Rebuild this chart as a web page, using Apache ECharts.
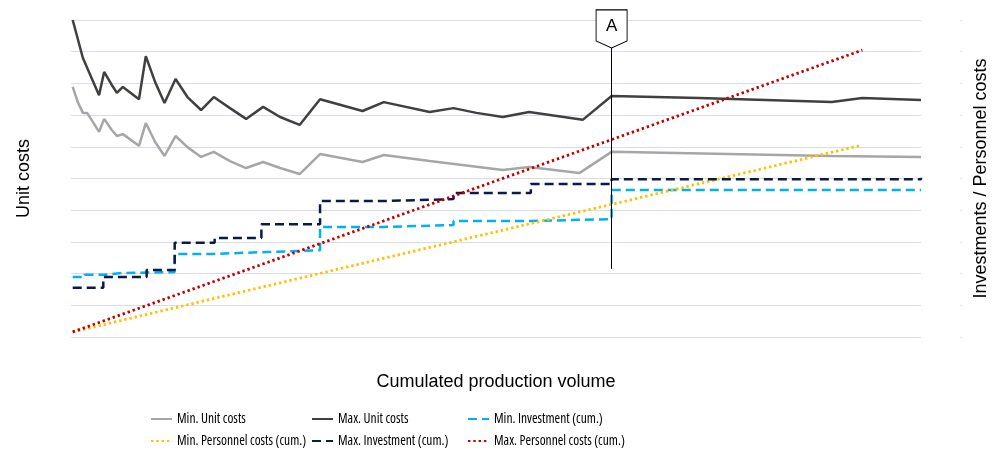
<!DOCTYPE html>
<html>
<head>
<meta charset="utf-8">
<script src="https://cdn.jsdelivr.net/npm/echarts@6/dist/echarts.min.js"></script>
<style>
  html, body { margin: 0; padding: 0; background: #fff; }
  #container { width: 998px; height: 454px; }
</style>
</head>
<body>
<div id="container"></div>
<script>
// production volume (0..100) / value pairs
var maxUnitX = [0.2, 1.4, 3.3, 3.9, 4.8, 5.4, 6.1, 8.0, 8.8, 9.9, 11.0, 12.3, 13.7, 15.3, 16.8, 18.7, 20.6, 22.6, 24.6, 26.9, 29.3, 34.3, 36.8, 42.2, 45.0, 47.7, 50.8, 53.9, 60.2, 63.6, 73.9, 89.5, 93.1, 100];
var maxUnitY = [10.0, 8.8, 7.63, 8.36, 7.95, 7.7, 7.89, 7.5, 8.86, 8.04, 7.38, 8.14, 7.57, 7.16, 7.57, 7.22, 6.88, 7.26, 6.94, 6.69, 7.5, 7.13, 7.41, 7.1, 7.22, 7.07, 6.94, 7.1, 6.85, 7.6, 7.54, 7.41, 7.54, 7.48];

var minUnitX = [0.2, 0.8, 1.4, 1.9, 3.3, 3.9, 4.8, 5.4, 6.1, 8.0, 8.8, 9.9, 11.0, 12.3, 13.7, 15.3, 16.8, 18.7, 20.6, 22.6, 24.6, 26.9, 29.3, 34.3, 36.8, 42.2, 50.8, 53.9, 59.8, 63.6, 89.5, 100];
var minUnitY = [7.89, 7.41, 7.07, 7.07, 6.47, 6.88, 6.53, 6.34, 6.4, 6.03, 6.75, 6.15, 5.71, 6.34, 5.99, 5.68, 5.84, 5.55, 5.33, 5.52, 5.33, 5.14, 5.77, 5.52, 5.74, 5.55, 5.27, 5.36, 5.17, 5.84, 5.71, 5.68];

var minInvX = [0.2, 1.6, 3.8, 6.1, 12.2, 16.7, 23.0, 29.3, 36.7, 45.0, 54.2, 63.6, 100];
var minInvY = [1.89, 1.96, 2.02, 2.05, 2.62, 2.68, 2.74, 3.47, 3.53, 3.66, 3.72, 4.64, 4.64];

var maxInvX = [0.2, 3.8, 8.9, 12.2, 16.9, 22.4, 29.3, 37.1, 45.0, 54.1, 63.6, 100];
var maxInvY = [1.55, 1.89, 2.11, 2.97, 3.12, 3.56, 4.29, 4.35, 4.54, 4.83, 4.98, 5.02];

var minPersX = [0.2, 92.7];
var minPersY = [0.16, 6.03];
var maxPersX = [0.2, 93.1];
var maxPersY = [0.16, 9.05];

var markerX = 63.6;
var markerTop = 9.12;
var markerBottom = 2.15;

function pairs(xs, ys) {
    var out = [];
    for (var i = 0; i < xs.length; i++) out.push([xs[i], ys[i]]);
    return out;
}

var dom = document.getElementById('container');
var myChart = echarts.init(dom);

// narrow legend text: Open Sans in its condensed width
var legendFont = {fontFamily: '"Open Sans", "Liberation Sans", sans-serif', fontStyle: 'condensed', fontSize: 13.5, lineHeight: 14, color: '#000'};
var titleFont = {fontFamily: '"Liberation Sans", Arial, sans-serif', fontSize: 18, color: '#000'};
var gridColor = '#d9dde8';

function legendCol(left, names) {
    return {
        orient: 'vertical',
        left: left,
        top: 412,
        padding: 0,
        itemWidth: 21,
        itemHeight: 14,
        itemGap: 8,
        itemStyle: {opacity: 0},
        textStyle: legendFont,
        data: names
    };
}

var option = {
    animation: false,
    grid: {left: 71, right: 74, top: 20, bottom: 117},
    legend: [
        legendCol(150, ['Min. Unit costs', 'Min. Personnel costs (cum.)']),
        legendCol(311, ['Max. Unit costs', 'Max. Investment (cum.)']),
        legendCol(467, ['Min. Investment (cum.)', 'Max. Personnel costs (cum.)'])
    ],
    xAxis: {
        type: 'value',
        min: 0,
        max: 100,
        name: 'Cumulated production volume',
        nameLocation: 'middle',
        nameGap: 36,
        nameTextStyle: titleFont,
        axisLine: {show: false},
        axisTick: {show: false},
        axisLabel: {show: false},
        splitLine: {show: false}
    },
    yAxis: [{
        type: 'value',
        min: 0,
        max: 10,
        interval: 1,
        name: 'Unit costs',
        nameLocation: 'middle',
        nameGap: 38,
        nameTextStyle: titleFont,
        axisLine: {show: false},
        axisTick: {show: false},
        axisLabel: {show: false},
        splitLine: {lineStyle: {color: gridColor, width: 1}}
    }, {
        type: 'value',
        min: 0,
        max: 10,
        interval: 1,
        position: 'right',
        offset: 39,
        name: 'Investments / Personnel costs',
        nameLocation: 'middle',
        nameGap: 12,
        nameTextStyle: titleFont,
        axisLine: {show: false},
        axisTick: {show: true, length: 2, lineStyle: {color: '#e6e6e6'}},
        axisLabel: {show: false},
        splitLine: {show: false}
    }],
    series: [{
        name: 'Min. Unit costs',
        type: 'line',
        symbol: 'none',
        lineStyle: {color: '#a6a6a6', width: 2.5},
        itemStyle: {color: '#a6a6a6'},
        data: pairs(minUnitX, minUnitY),
        z: 3
    }, {
        name: 'Max. Unit costs',
        type: 'line',
        symbol: 'none',
        lineStyle: {color: '#404040', width: 2.5},
        itemStyle: {color: '#404040'},
        data: pairs(maxUnitX, maxUnitY),
        z: 3,
        markLine: {
            silent: true,
            symbol: ['none', 'none'],
            label: {show: false},
            lineStyle: {color: '#000', width: 1, type: 'solid'},
            data: [[{coord: [markerX, markerTop]}, {coord: [markerX, markerBottom]}]]
        },
        markPoint: {
            silent: true,
            symbol: 'path://M0,0 L31,0 L31,31 L15.5,38 L0,31 Z',
            symbolSize: [31, 38],
            symbolOffset: [0, '-50%'],
            itemStyle: {color: '#fff', borderColor: '#000', borderWidth: 1},
            label: {show: true, formatter: 'A', color: '#000', fontSize: 17, fontFamily: '"Liberation Sans", Arial, sans-serif', offset: [0, -3]},
            data: [{coord: [markerX, markerTop]}]
        }
    }, {
        name: 'Min. Investment (cum.)',
        type: 'line',
        yAxisIndex: 1,
        step: 'end',
        symbol: 'none',
        lineStyle: {color: '#00b0f0', width: 2.5, type: [9, 5]},
        itemStyle: {color: '#00b0f0'},
        data: pairs(minInvX, minInvY)
    }, {
        name: 'Min. Personnel costs (cum.)',
        type: 'line',
        yAxisIndex: 1,
        symbol: 'none',
        lineStyle: {color: '#ffc000', width: 2.8, type: [2.4, 2.9]},
        itemStyle: {color: '#ffc000'},
        data: pairs(minPersX, minPersY)
    }, {
        name: 'Max. Investment (cum.)',
        type: 'line',
        yAxisIndex: 1,
        step: 'end',
        symbol: 'none',
        lineStyle: {color: '#0c1a4b', width: 2.5, type: [9, 5]},
        itemStyle: {color: '#0c1a4b'},
        data: pairs(maxInvX, maxInvY)
    }, {
        name: 'Max. Personnel costs (cum.)',
        type: 'line',
        yAxisIndex: 1,
        symbol: 'none',
        lineStyle: {color: '#c00000', width: 2.8, type: [2.4, 2.9]},
        itemStyle: {color: '#c00000'},
        data: pairs(maxPersX, maxPersY)
    }]
};

myChart.setOption(option, true);
</script>
</body>
</html>
